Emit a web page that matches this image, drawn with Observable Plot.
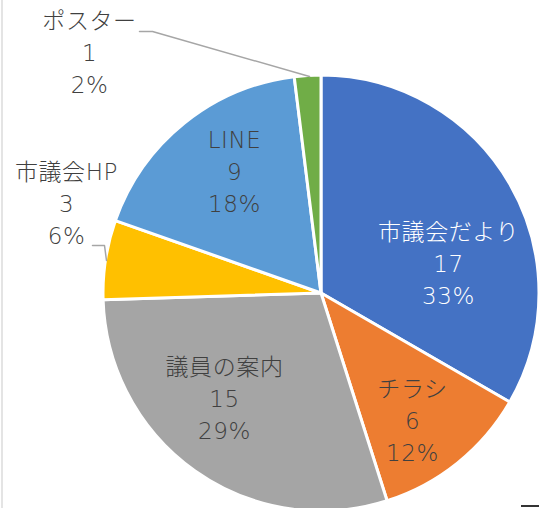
<!DOCTYPE html>
<html><head><meta charset="utf-8">
<script src="https://cdn.jsdelivr.net/npm/d3@7"></script>
<script src="https://cdn.jsdelivr.net/npm/@observablehq/plot@0.6"></script>
<style>
body{margin:0;background:#fff;}
#chart{position:relative;width:539px;height:508px;overflow:hidden;background:#fff;}
#chart::before{content:"";position:absolute;left:1px;top:0;width:2px;height:508px;background:#e4e4e4;}
#chart::after{content:"";position:absolute;left:521px;top:505px;width:18px;height:2px;background:#333;}
#chart svg text{letter-spacing:0.6px;}
</style></head><body><div id="chart"></div>
<script>
// ---- data ----
const categories = ["市議会だより","チラシ","議員の案内","市議会HP","LINE","ポスター"];
const values = [17, 6, 15, 3, 9, 1];
const colors = ["#4472C4","#ED7D31","#A5A5A5","#FFC000","#5B9BD5","#70AD47"];
const textColors = ["#ffffff","#404040","#404040","#404040","#404040","#404040"];

// ---- layout (pixel offsets from pie centre, y up) ----
const W = 539, H = 508, R = 218;
const labelPos = [[127, 32], [91, -125], [-97, -103], [-255, 92], [-87, 124], [-232, 243]];
const leaders = [
  [[-182, 262], [-169, 262], [-12, 217]],
  [[-229, 48], [-217, 48], [-215, 33]]
];

const total = d3.sum(values);
const pct = d3.format(".0%");
const arcs = d3.pie().sort(null).value(d => d)(values);
const slices = arcs.map((a, i) => ({cat: categories[i], value: values[i], start: a.startAngle, end: a.endAngle, color: colors[i]}));
const labels = categories.map((c, i) => ({
  x: labelPos[i][0], y: labelPos[i][1],
  text: `${c}\n${values[i]}\n${pct(values[i] / total)}`,
  color: textColors[i]
}));
const leaderPts = leaders.flatMap((pts, k) => pts.map(p => ({x: p[0], y: p[1], k})));

function pieMark(index, scales, vals, dims, ctx) {
  const g = d3.create("svg:g");
  const cx = scales.x(0), cy = scales.y(0), r = scales.x(R) - scales.x(0);
  const arc = d3.arc().innerRadius(0).outerRadius(r);
  g.selectAll("path").data(slices).join("path")
    .attr("transform", `translate(${cx},${cy})`)
    .attr("d", d => arc({startAngle: d.start, endAngle: d.end}))
    .attr("fill", d => d.color)
    .attr("stroke", "#fff")
    .attr("stroke-width", 3)
    .attr("stroke-linejoin", "round");
  return g.node();
}

const chart = Plot.plot({
  width: W, height: H,
  margin: 0,
  axis: null,
  x: {domain: [-321, W - 321]},
  y: {domain: [-(H - 293), 293]},
  style: {background: "transparent"},
  marks: [
    pieMark,
    Plot.line(leaderPts, {x: "x", y: "y", z: "k", stroke: "#a6a6a6", strokeWidth: 1.5}),
    Plot.text(labels, {
      x: "x", y: "y", text: "text", fill: "color",
      fontSize: 23, lineHeight: 1.4, fontWeight: 300,
      fontFamily: "'DejaVu Sans', 'Noto Sans CJK JP', sans-serif",
      textAnchor: "middle"
    })
  ]
});
document.getElementById("chart").appendChild(chart);
</script>
</body></html>
